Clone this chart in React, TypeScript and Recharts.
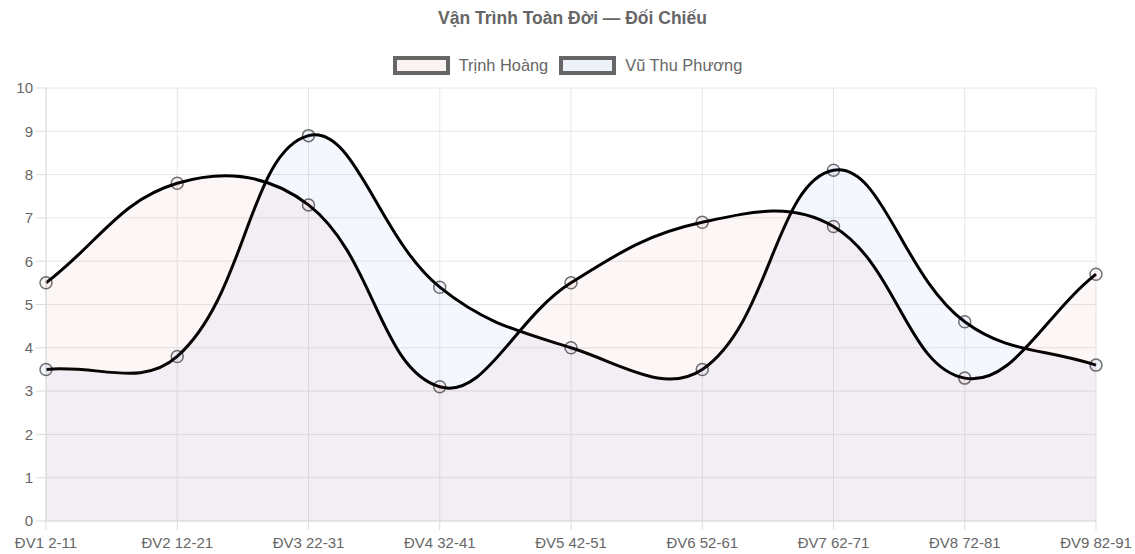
import React from 'react';
import { AreaChart, Area, CartesianGrid, XAxis, YAxis } from 'recharts';

const labels = ['ĐV1 2-11', 'ĐV2 12-21', 'ĐV3 22-31', 'ĐV4 32-41', 'ĐV5 42-51', 'ĐV6 52-61', 'ĐV7 62-71', 'ĐV8 72-81', 'ĐV9 82-91'];
const trinhHoang = [5.5, 7.8, 7.3, 3.1, 5.5, 6.9, 6.8, 3.3, 5.7];
const vuThuPhuong = [3.5, 3.8, 8.9, 5.4, 4.0, 3.5, 8.1, 4.6, 3.6];
const yTicks = [0, 1, 2, 3, 4, 5, 6, 7, 8, 9, 10];

const data = labels.map((label, i) => ({ label, a: trinhHoang[i], b: vuThuPhuong[i] }));

const FONT = '"Liberation Sans", Arial, Helvetica, sans-serif';
const PINK = 'rgba(220,80,80,0.05)';
const BLUE = 'rgba(60,120,220,0.06)';
const PINK_BOX = '#fbf2f2';
const BLUE_BOX = '#eef3fa';

// chart.js style spline (tension 0.4)
const splineCurve = (context: any) => {
  let pts: number[][] = [];
  let line = NaN;
  const t = 0.4;
  return {
    areaStart() { line = 0; },
    areaEnd() { line = NaN; },
    lineStart() { pts = []; },
    point(x: number, y: number) { pts.push([+x, +y]); },
    lineEnd() {
      const n = pts.length;
      if (n) {
        const cps = pts.map((p, i) => {
          const prev = pts[Math.max(0, i - 1)];
          const next = pts[Math.min(n - 1, i + 1)];
          const d01 = Math.hypot(p[0] - prev[0], p[1] - prev[1]);
          const d12 = Math.hypot(next[0] - p[0], next[1] - p[1]);
          let s01 = d01 / (d01 + d12);
          let s12 = d12 / (d01 + d12);
          if (isNaN(s01)) s01 = 0;
          if (isNaN(s12)) s12 = 0;
          const fa = t * s01;
          const fb = t * s12;
          return {
            prev: [p[0] - fa * (next[0] - prev[0]), p[1] - fa * (next[1] - prev[1])],
            next: [p[0] + fb * (next[0] - prev[0]), p[1] + fb * (next[1] - prev[1])],
          };
        });
        if (line) context.lineTo(pts[0][0], pts[0][1]);
        else context.moveTo(pts[0][0], pts[0][1]);
        for (let i = 1; i < n; i++) {
          context.bezierCurveTo(cps[i - 1].next[0], cps[i - 1].next[1], cps[i].prev[0], cps[i].prev[1], pts[i][0], pts[i][1]);
        }
      }
      if (line || (line !== 0 && n === 1)) context.closePath();
      line = 1 - line;
    },
  };
};

const LegendItem = ({ color, text }: { color: string; text: string }) => (
  <div style={{ display: 'flex', alignItems: 'center', marginRight: 11 }}>
    <div style={{ width: 49, height: 11, border: '4px solid #666', background: color, marginRight: 9 }} />
    <span>{text}</span>
  </div>
);

export default function App() {
  return (
    <div style={{ position: 'absolute', left: 0, top: 0, width: 1135, height: 554, background: '#fff', fontFamily: FONT }}>
      <div style={{ position: 'absolute', top: 8, left: 5, width: 1135, textAlign: 'center', fontSize: 17.5, fontWeight: 'bold', color: '#666' }}>
        Vận Trình Toàn Đời — Đối Chiếu
      </div>
      <div style={{ position: 'absolute', top: 56, left: 0, width: 1146, display: 'flex', justifyContent: 'center', fontSize: 16.4, color: '#666' }}>
        <LegendItem color={PINK_BOX} text="Trịnh Hoàng" />
        <LegendItem color={BLUE_BOX} text="Vũ Thu Phương" />
      </div>
      <AreaChart width={1135} height={554} data={data} margin={{ top: 88, right: 39, bottom: 0, left: 0 }}>
        <CartesianGrid stroke="#e6e6e6" />
        <XAxis
          dataKey="label"
          scale="point"
          height={33}
          tickSize={9}
          tickMargin={7}
          interval={0}
          stroke="#dcdcdc"
          tick={{ fill: '#666', fontSize: 15, fontFamily: FONT }}
        />
        <YAxis
          width={46}
          domain={[0, 10]}
          ticks={yTicks}
          tickSize={10}
          tickMargin={3}
          stroke="#dcdcdc"
          tick={{ fill: '#666', fontSize: 15, fontFamily: FONT }}
        />
        <Area
          dataKey="b"
          name="Vũ Thu Phương"
          type={splineCurve as any}
          stroke="#000"
          strokeWidth={3}
          fill={BLUE}
          fillOpacity={1}
          dot={{ r: 6, fill: BLUE, stroke: 'rgba(0,0,0,0.55)', strokeWidth: 1.5, fillOpacity: 1 }}
          activeDot={false}
          isAnimationActive={false}
        />
        <Area
          dataKey="a"
          name="Trịnh Hoàng"
          type={splineCurve as any}
          stroke="#000"
          strokeWidth={3}
          fill={PINK}
          fillOpacity={1}
          dot={{ r: 6, fill: PINK, stroke: 'rgba(0,0,0,0.55)', strokeWidth: 1.5, fillOpacity: 1 }}
          activeDot={false}
          isAnimationActive={false}
        />
      </AreaChart>
    </div>
  );
}
